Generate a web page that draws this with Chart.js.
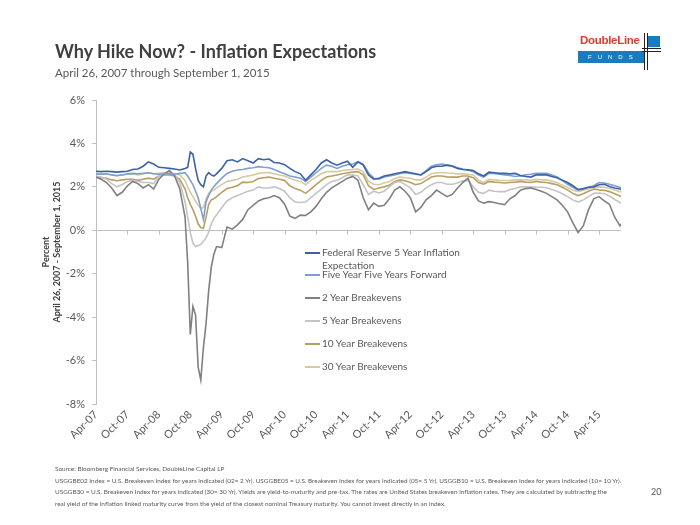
<!DOCTYPE html>
<html>
<head>
<meta charset="utf-8">
<script src="https://cdn.jsdelivr.net/npm/chart.js@4.4.0/dist/chart.umd.min.js"></script>
<style>
  body { margin: 0; background: #fff; }
  #wrap { position: relative; width: 700px; height: 525px; overflow: hidden; font-family: Lato, "Open Sans", sans-serif; color: #595959; }
  #chart { position: absolute; left: 0; top: 0; }
  .abs { position: absolute; white-space: nowrap; }
  #title { left: 55px; top: 40px; font-size: 18px; font-weight: bold; color: #404040; }
  #subtitle { left: 55px; top: 66px; font-size: 11.5px; }
  #notes { left: 55px; top: 463px; font-size: 6.4px; line-height: 11.7px; }
  #page { left: 651px; top: 486px; font-size: 9px; }
  #legend { left: 305px; top: 0; width: 200px; height: 0; }
  .item { position: absolute; left: 0; font-size: 10px; line-height: 12.5px; width: 175px; white-space: normal; }
  .sw { position: absolute; left: 0; top: 6px; width: 15px; height: 2px; }
  .txt { position: absolute; left: 17px; top: 0; width: 150px; }
  #logo { left: 576px; top: 32px; width: 90px; height: 40px; }
  #logo .dl { position: absolute; left: 4px; top: 2px; font-family: "Liberation Sans", Arial, sans-serif; font-weight: bold; font-size: 11.5px; color: #e0392b; letter-spacing: -0.3px; }
  #logo .box { position: absolute; left: 2px; top: 19px; width: 66px; height: 12px; background: #1a7cc0; color: #fff; font-family: "Liberation Sans", Arial, sans-serif; font-size: 6px; line-height: 12px; letter-spacing: 6px; text-indent: 10px; }
  #logo .sq { position: absolute; left: 72px; top: 4px; width: 12px; height: 11px; background: #1a7cc0; }
  #logo .v { position: absolute; top: 1px; width: 1px; height: 37px; background: #222; }
  #logo .h { position: absolute; left: 66px; width: 19px; height: 1px; background: #222; }
</style>
</head>
<body>
<div id="wrap">
  <canvas id="chart" width="700" height="525"></canvas>
  <div class="abs" id="title">Why Hike Now? - Inflation Expectations</div>
  <div class="abs" id="subtitle">April 26, 2007 through September 1, 2015</div>
  <div class="abs" id="logo">
    <div class="dl">DoubleLine</div>
    <div class="box">FUNDS</div>
    <div class="sq"></div>
    <div class="v" style="left:68px"></div>
    <div class="v" style="left:71px"></div>
    <div class="h" style="top:16px"></div>
    <div class="h" style="top:19px"></div>
  </div>
  <div class="abs" id="legend"></div>
  <div class="abs" id="notes">Source: Bloomberg Financial Services, DoubleLine Capital LP<br>USGGBE02 Index = U.S. Breakeven Index for years indicated (02= 2 Yr). USGGBE05 = U.S. Breakeven Index for years indicated (05= 5 Yr). USGGB10 = U.S. Breakeven Index for years indicated (10= 10 Yr).<br>USGGB30 = U.S. Breakeven Index for years indicated (30= 30 Yr). Yields are yield-to-maturity and pre-tax. The rates are United States breakeven inflation rates. They are calculated by subtracting the<br>real yield of the inflation linked maturity curve from the yield of the closest nominal Treasury maturity. You cannot invest directly in an index.</div>
  <div class="abs" id="page">20</div>
</div>
<script>
// months since April 26, 2007
var months = [0, 1, 2, 3, 4, 5, 6, 7, 8, 9, 10, 11, 12, 13, 14, 15, 16, 17,
  17.5, 18, 18.5, 19, 19.5, 20, 20.5, 21, 21.5, 22, 22.5,
  23, 24, 25, 26, 27, 28, 29, 30, 31, 32, 33, 34, 35, 36, 37, 38, 39, 40, 41, 42, 43,
  44, 45, 46, 47, 48, 49, 50, 51, 52, 53, 54, 55, 56, 57, 58, 59, 60, 61, 62, 63,
  64, 65, 66, 67, 68, 69, 70, 71, 72, 73, 74, 75, 76, 77, 78, 79, 80, 81, 82, 83,
  84, 85, 86, 87, 88, 89, 90, 91, 92, 93, 94, 95, 96, 97, 98, 99, 100, 100.2];

var xLabels = ['Apr-07', 'Oct-07', 'Apr-08', 'Oct-08', 'Apr-09', 'Oct-09', 'Apr-10', 'Oct-10', 'Apr-11',
  'Oct-11', 'Apr-12', 'Oct-12', 'Apr-13', 'Oct-13', 'Apr-14', 'Oct-14', 'Apr-15'];

var yTicks = [-8, -6, -4, -2, 0, 2, 4, 6];

var fed = [2.72, 2.70, 2.72, 2.70, 2.68, 2.70, 2.72, 2.80, 2.82, 2.95, 3.15, 3.05, 2.90, 2.88, 2.85, 2.82, 2.78, 2.85,
  2.90, 3.60, 3.50, 2.85, 2.30, 2.10, 2.00, 2.50, 2.65, 2.55, 2.50,
  2.60, 2.85, 3.20, 3.25, 3.15, 3.30, 3.20, 3.10, 3.30, 3.25, 3.28,
  3.12, 3.10, 3.02, 2.85, 2.70, 2.60, 2.30, 2.55, 2.80, 3.10,
  3.25, 3.10, 3.00, 3.10, 3.18, 2.90, 3.15, 3.00, 2.55, 2.35,
  2.40, 2.50, 2.55, 2.60, 2.65, 2.70, 2.65, 2.60, 2.55, 2.70,
  2.88, 2.95, 2.95, 3.00, 2.95, 2.85, 2.80, 2.78, 2.75, 2.60,
  2.50, 2.68, 2.65, 2.62, 2.62, 2.60, 2.62, 2.52, 2.48, 2.45,
  2.55, 2.55, 2.55, 2.48, 2.42, 2.30, 2.20, 2.05, 1.88, 1.92,
  1.98, 2.00, 2.10, 2.12, 2.02, 1.95, 1.90, 1.88];

var fwd = [2.60, 2.58, 2.60, 2.55, 2.52, 2.55, 2.60, 2.62, 2.60, 2.62, 2.65, 2.60, 2.58, 2.60, 2.60, 2.58, 2.62, 2.65,
  2.50, 2.30, 2.10, 1.80, 1.50, 1.00, 0.50, 1.30, 1.60, 1.85, 2.00,
  2.15, 2.40, 2.62, 2.72, 2.78, 2.80, 2.85, 2.88, 2.93, 2.90, 2.88,
  2.80, 2.70, 2.60, 2.50, 2.45, 2.40, 2.25, 2.45, 2.65, 2.85,
  3.00, 2.95, 2.85, 2.95, 3.02, 3.05, 3.15, 3.05, 2.65, 2.40,
  2.35, 2.45, 2.50, 2.55, 2.62, 2.65, 2.62, 2.58, 2.55, 2.75,
  2.95, 3.02, 3.05, 3.00, 2.97, 2.88, 2.82, 2.78, 2.70, 2.55,
  2.45, 2.62, 2.62, 2.58, 2.55, 2.52, 2.48, 2.50, 2.55, 2.58,
  2.62, 2.62, 2.62, 2.55, 2.45, 2.30, 2.12, 1.98, 1.85, 1.90,
  1.98, 2.05, 2.20, 2.18, 2.12, 2.05, 1.98, 1.95];

var be2 = [2.45, 2.35, 2.20, 1.95, 1.60, 1.75, 2.05, 2.25, 2.15, 1.95, 2.10, 1.90, 2.35, 2.60, 2.75, 2.50, 1.90, 0.60,
  -1.50, -4.80, -3.50, -3.90, -6.30, -6.90, -5.40, -4.30, -2.80, -1.70, -1.10,
  -0.75, -0.80, 0.15, 0.05, 0.25, 0.50, 0.95, 1.15, 1.35, 1.45, 1.50,
  1.60, 1.50, 1.20, 0.65, 0.55, 0.70, 0.68, 0.85, 1.10, 1.45,
  1.75, 1.95, 2.10, 2.25, 2.40, 2.48, 2.30, 1.50, 0.95, 1.25,
  1.10, 1.15, 1.45, 1.85, 2.00, 1.80, 1.50, 0.85, 1.05, 1.40,
  1.60, 1.85, 1.70, 1.55, 1.65, 1.95, 2.20, 2.40, 1.75, 1.35,
  1.25, 1.32, 1.28, 1.22, 1.18, 1.45, 1.60, 1.85, 1.92, 1.95,
  1.88, 1.80, 1.70, 1.55, 1.40, 1.15, 0.85, 0.35, -0.10, 0.20,
  0.95, 1.45, 1.55, 1.35, 1.20, 0.60, 0.20, 0.30];

var be5 = [2.50, 2.45, 2.35, 2.15, 2.00, 2.10, 2.25, 2.30, 2.25, 2.20, 2.20, 2.15, 2.50, 2.62, 2.70, 2.55, 2.20, 1.30,
  0.60, -0.10, -0.60, -0.75, -0.70, -0.65, -0.50, -0.35, -0.10, 0.30, 0.55,
  0.70, 1.05, 1.35, 1.50, 1.60, 1.70, 1.80, 1.85, 2.00, 1.95, 1.95,
  2.00, 1.92, 1.80, 1.50, 1.30, 1.28, 1.30, 1.50, 1.70, 1.90,
  2.10, 2.25, 2.30, 2.42, 2.55, 2.55, 2.50, 2.10, 1.65, 1.80,
  1.72, 1.80, 2.00, 2.20, 2.25, 2.10, 1.95, 1.65, 1.75, 1.95,
  2.10, 2.20, 2.20, 2.12, 2.12, 2.18, 2.28, 2.30, 2.00, 1.75,
  1.70, 1.85, 1.80, 1.78, 1.78, 1.88, 1.92, 2.00, 2.00, 2.00,
  1.98, 1.98, 1.96, 1.88, 1.80, 1.68, 1.55, 1.40, 1.30, 1.40,
  1.55, 1.70, 1.72, 1.68, 1.58, 1.42, 1.28, 1.25];

var be10 = [2.45, 2.42, 2.40, 2.32, 2.28, 2.32, 2.35, 2.35, 2.30, 2.35, 2.40, 2.35, 2.50, 2.55, 2.55, 2.50, 2.35, 1.90,
  1.50, 1.20, 0.95, 0.65, 0.30, 0.12, 0.10, 0.60, 1.20, 1.40, 1.45,
  1.55, 1.75, 1.92, 1.98, 2.05, 2.22, 2.20, 2.25, 2.38, 2.42, 2.45,
  2.40, 2.35, 2.30, 2.05, 1.92, 1.85, 1.70, 1.90, 2.10, 2.30,
  2.45, 2.50, 2.55, 2.60, 2.65, 2.68, 2.70, 2.55, 2.05, 1.88,
  1.95, 2.00, 2.08, 2.25, 2.32, 2.28, 2.20, 2.10, 2.15, 2.30,
  2.45, 2.50, 2.50, 2.46, 2.45, 2.45, 2.50, 2.50, 2.42, 2.20,
  2.12, 2.25, 2.22, 2.20, 2.18, 2.20, 2.22, 2.25, 2.22, 2.20,
  2.25, 2.22, 2.20, 2.15, 2.10, 1.98, 1.86, 1.70, 1.60, 1.68,
  1.80, 1.90, 1.86, 1.84, 1.78, 1.68, 1.58, 1.56];

var be30 = [2.62, 2.60, 2.60, 2.55, 2.50, 2.55, 2.58, 2.60, 2.55, 2.60, 2.65, 2.60, 2.62, 2.65, 2.65, 2.60, 2.55, 2.30,
  2.00, 1.75, 1.55, 1.35, 1.15, 1.00, 1.05, 1.45, 1.70, 1.80, 1.85,
  1.95, 2.10, 2.25, 2.30, 2.35, 2.45, 2.50, 2.55, 2.62, 2.65, 2.66,
  2.60, 2.55, 2.50, 2.40, 2.30, 2.25, 2.10, 2.30, 2.45, 2.60,
  2.70, 2.70, 2.70, 2.75, 2.78, 2.80, 2.82, 2.70, 2.25, 2.12,
  2.10, 2.18, 2.25, 2.38, 2.45, 2.42, 2.40, 2.32, 2.32, 2.45,
  2.60, 2.65, 2.66, 2.64, 2.63, 2.60, 2.60, 2.58, 2.55, 2.30,
  2.20, 2.35, 2.32, 2.30, 2.29, 2.30, 2.32, 2.32, 2.32, 2.30,
  2.35, 2.33, 2.32, 2.26, 2.20, 2.08, 1.98, 1.85, 1.78, 1.85,
  1.90, 1.98, 2.00, 1.98, 1.94, 1.85, 1.78, 1.75];

function pts(vals) {
  return months.map(function(m, i) { return {x: m, y: vals[i]}; });
}

function series(label, vals, color) {
  return {
    label: label,
    data: pts(vals),
    borderColor: color,
    backgroundColor: color,
    borderWidth: 1.6,
    pointRadius: 0,
    tension: 0
  };
}

// horizontal axis drawn at 0% with small tick marks, like the original
var zeroAxis = {
  id: 'zeroAxis',
  beforeDatasetsDraw: function(chart) {
    var ctx = chart.ctx, area = chart.chartArea, x = chart.scales.x, y = chart.scales.y;
    var yz = Math.round(y.getPixelForValue(0)) + 0.5;
    ctx.save();
    ctx.strokeStyle = '#bfbfbf';
    ctx.lineWidth = 1;
    ctx.beginPath();
    ctx.moveTo(area.left, yz);
    ctx.lineTo(area.right, yz);
    x.ticks.forEach(function(t) {
      if (t.value === 0) return;
      var px = Math.round(x.getPixelForValue(t.value)) + 0.5;
      ctx.moveTo(px, yz);
      ctx.lineTo(px, yz + 4);
    });
    ctx.stroke();
    ctx.restore();
  }
};

var chart = new Chart(document.getElementById('chart').getContext('2d'), {
  type: 'line',
  data: {
    datasets: [
      series('Federal Reserve 5 Year Inflation Expectation', fed, '#3a63a6'),
      series('Five Year Five Years Forward', fwd, '#7f9fd0'),
      series('2 Year Breakevens', be2, '#808080'),
      series('5 Year Breakevens', be5, '#c4c4c4'),
      series('10 Year Breakevens', be10, '#b99f63'),
      series('30 Year Breakevens', be30, '#d8c9a3')
    ]
  },
  plugins: [zeroAxis],
  options: {
    responsive: false,
    animation: false,
    layout: { padding: { left: 0, top: 100, right: 79, bottom: 0 } },
    plugins: {
      legend: { display: false },
      tooltip: { enabled: false }
    },
    scales: {
      x: {
        type: 'linear',
        min: 0,
        max: 100.2,
        afterFit: function(s) { s.height = 121; },
        afterBuildTicks: function(s) {
          s.ticks = xLabels.map(function(l, i) { return {value: i * 6}; });
        },
        grid: { display: false, drawTicks: false },
        border: { display: false },
        ticks: {
          autoSkip: false,
          maxRotation: 45,
          minRotation: 45,
          padding: 4,
          color: '#595959',
          font: { family: 'Lato', size: 11 },
          callback: function(v) { return xLabels[Math.round(v / 6)]; }
        }
      },
      y: {
        min: -8,
        max: 6,
        afterFit: function(s) { s.width = 96; },
        afterBuildTicks: function(s) {
          s.ticks = yTicks.map(function(v) { return {value: v}; });
        },
        border: { display: true, color: '#bfbfbf' },
        grid: { drawOnChartArea: false, drawTicks: true, tickLength: 4, color: '#bfbfbf' },
        ticks: {
          padding: 7,
          color: '#595959',
          font: { family: 'Lato', size: 11 },
          callback: function(v) { return v + '%'; }
        },
        title: {
          display: true,
          text: ['Percent', 'April 26, 2007 - September 1, 2015'],
          color: '#404040',
          font: { family: 'Lato', size: 9, weight: 'bold' },
          padding: { top: 41, bottom: 0 }
        }
      }
    }
  }
});

// legend built from the datasets, placed inside the plot as in the original
var legend = document.getElementById('legend');
chart.data.datasets.forEach(function(ds, i) {
  var item = document.createElement('div');
  item.className = 'item';
  item.style.top = (i === 0 ? 246 : 245 + i * 23) + 'px';
  item.innerHTML = '<div class="sw" style="background:' + ds.borderColor + '"></div><div class="txt">' + ds.label + '</div>';
  legend.appendChild(item);
});
</script>
</body>
</html>
